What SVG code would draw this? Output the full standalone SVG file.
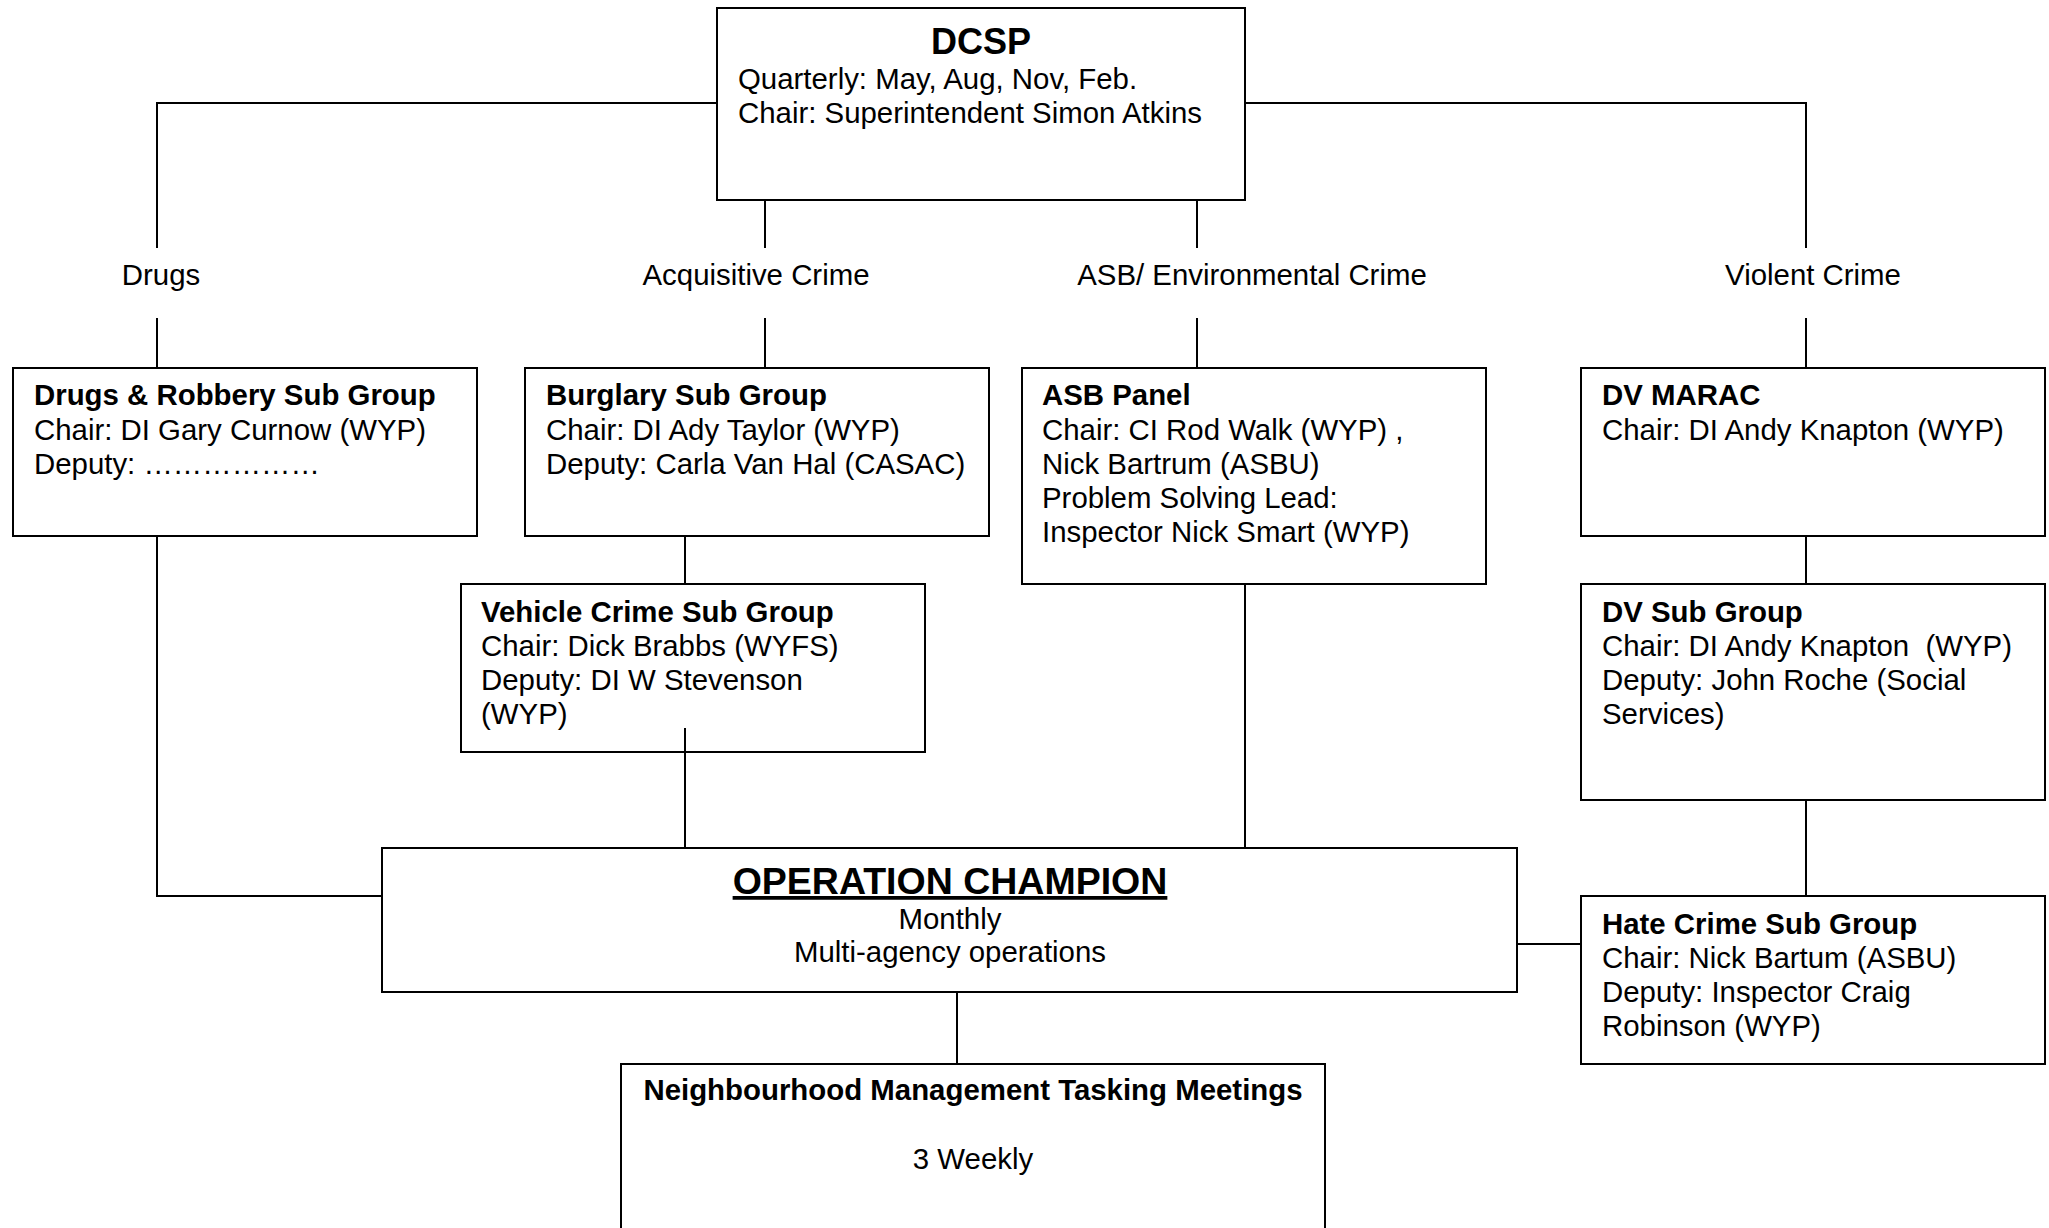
<svg xmlns="http://www.w3.org/2000/svg" width="2049" height="1228" viewBox="0 0 2049 1228">
<style>
  .box { fill: #ffffff; stroke: #000000; stroke-width: 2; }
  .conn { fill: none; stroke: #000000; stroke-width: 2; }
  text { font-family: "Liberation Sans", Arial, sans-serif; fill: #000000; font-size: 29.4px; }
  .b { font-weight: bold; }
  .big { font-size: 36px; font-weight: bold; }
  .op { font-size: 37.5px; font-weight: bold; }
  .mid { text-anchor: middle; }
</style>
<rect x="0" y="0" width="2049" height="1228" fill="#ffffff"/>

<g id="connectors">
  <polyline class="conn" points="157,248 157,103 717,103"/>
  <polyline class="conn" points="1245,103 1806,103 1806,248"/>
  <line class="conn" x1="765" y1="200" x2="765" y2="248"/>
  <line class="conn" x1="1197" y1="200" x2="1197" y2="248"/>
  <line class="conn" x1="157" y1="318" x2="157" y2="368"/>
  <line class="conn" x1="765" y1="318" x2="765" y2="368"/>
  <line class="conn" x1="1197" y1="318" x2="1197" y2="368"/>
  <line class="conn" x1="1806" y1="318" x2="1806" y2="368"/>
  <line class="conn" x1="685" y1="536" x2="685" y2="584"/>
  <polyline class="conn" points="157,536 157,896 382,896"/>
  <line class="conn" x1="1245" y1="584" x2="1245" y2="848"/>
  <line class="conn" x1="1806" y1="536" x2="1806" y2="584"/>
  <line class="conn" x1="1806" y1="800" x2="1806" y2="896"/>
  <line class="conn" x1="1517" y1="944" x2="1581" y2="944"/>
  <line class="conn" x1="957" y1="992" x2="957" y2="1064"/>
  <text class="mid" x="161" y="285">Drugs</text>
  <text class="mid" x="756" y="285">Acquisitive Crime</text>
  <text class="mid" x="1252" y="285">ASB/ Environmental Crime</text>
  <text class="mid" x="1813" y="285">Violent Crime</text>
</g>

<g id="dcsp">
  <rect class="box" x="717" y="8" width="528" height="192"/>
  <text class="big mid" x="981" y="54">DCSP</text>
  <text x="738" y="89">Quarterly: May, Aug, Nov, Feb.</text>
  <text x="738" y="123">Chair: Superintendent Simon Atkins</text>
</g>

<g id="drugs-robbery">
  <rect class="box" x="13" y="368" width="464" height="168"/>
  <text class="b" x="34" y="405">Drugs &amp; Robbery Sub Group</text>
  <text x="34" y="440">Chair: DI Gary Curnow (WYP)</text>
  <text x="34" y="474">Deputy: ………………</text>
</g>

<g id="burglary">
  <rect class="box" x="525" y="368" width="464" height="168"/>
  <text class="b" x="546" y="405">Burglary Sub Group</text>
  <text x="546" y="440">Chair: DI Ady Taylor (WYP)</text>
  <text x="546" y="474">Deputy: Carla Van Hal (CASAC)</text>
</g>

<g id="asb-panel">
  <rect class="box" x="1022" y="368" width="464" height="216"/>
  <text class="b" x="1042" y="405">ASB Panel</text>
  <text x="1042" y="440">Chair: CI Rod Walk (WYP) ,</text>
  <text x="1042" y="474">Nick Bartrum (ASBU)</text>
  <text x="1042" y="508">Problem Solving Lead:</text>
  <text x="1042" y="542">Inspector Nick Smart (WYP)</text>
</g>

<g id="dv-marac">
  <rect class="box" x="1581" y="368" width="464" height="168"/>
  <text class="b" x="1602" y="405">DV MARAC</text>
  <text x="1602" y="440">Chair: DI Andy Knapton (WYP)</text>
</g>

<g id="vehicle-crime">
  <rect class="box" x="461" y="584" width="464" height="168"/>
  <text class="b" x="481" y="622">Vehicle Crime Sub Group</text>
  <text x="481" y="656">Chair: Dick Brabbs (WYFS)</text>
  <text x="481" y="690">Deputy: DI W Stevenson</text>
  <text x="481" y="724">(WYP)</text>
  <line class="conn" x1="685" y1="728" x2="685" y2="848"/>
</g>

<g id="dv-sub-group">
  <rect class="box" x="1581" y="584" width="464" height="216"/>
  <text class="b" x="1602" y="622">DV Sub Group</text>
  <text x="1602" y="656" xml:space="preserve">Chair: DI Andy Knapton  (WYP)</text>
  <text x="1602" y="690">Deputy: John Roche (Social</text>
  <text x="1602" y="724">Services)</text>
</g>

<g id="operation-champion">
  <rect class="box" x="382" y="848" width="1135" height="144"/>
  <text class="op mid" x="950" y="894" text-decoration="underline">OPERATION CHAMPION</text>
  <text class="mid" x="950" y="929">Monthly</text>
  <text class="mid" x="950" y="962">Multi-agency operations</text>
</g>

<g id="hate-crime">
  <rect class="box" x="1581" y="896" width="464" height="168"/>
  <text class="b" x="1602" y="934">Hate Crime Sub Group</text>
  <text x="1602" y="968">Chair: Nick Bartum (ASBU)</text>
  <text x="1602" y="1002">Deputy: Inspector Craig</text>
  <text x="1602" y="1036">Robinson (WYP)</text>
</g>

<g id="neighbourhood-tasking">
  <rect class="box" x="621" y="1064" width="704" height="200"/>
  <text class="b mid" x="973" y="1100">Neighbourhood Management Tasking Meetings</text>
  <text class="mid" x="973" y="1169">3 Weekly</text>
</g>
</svg>
